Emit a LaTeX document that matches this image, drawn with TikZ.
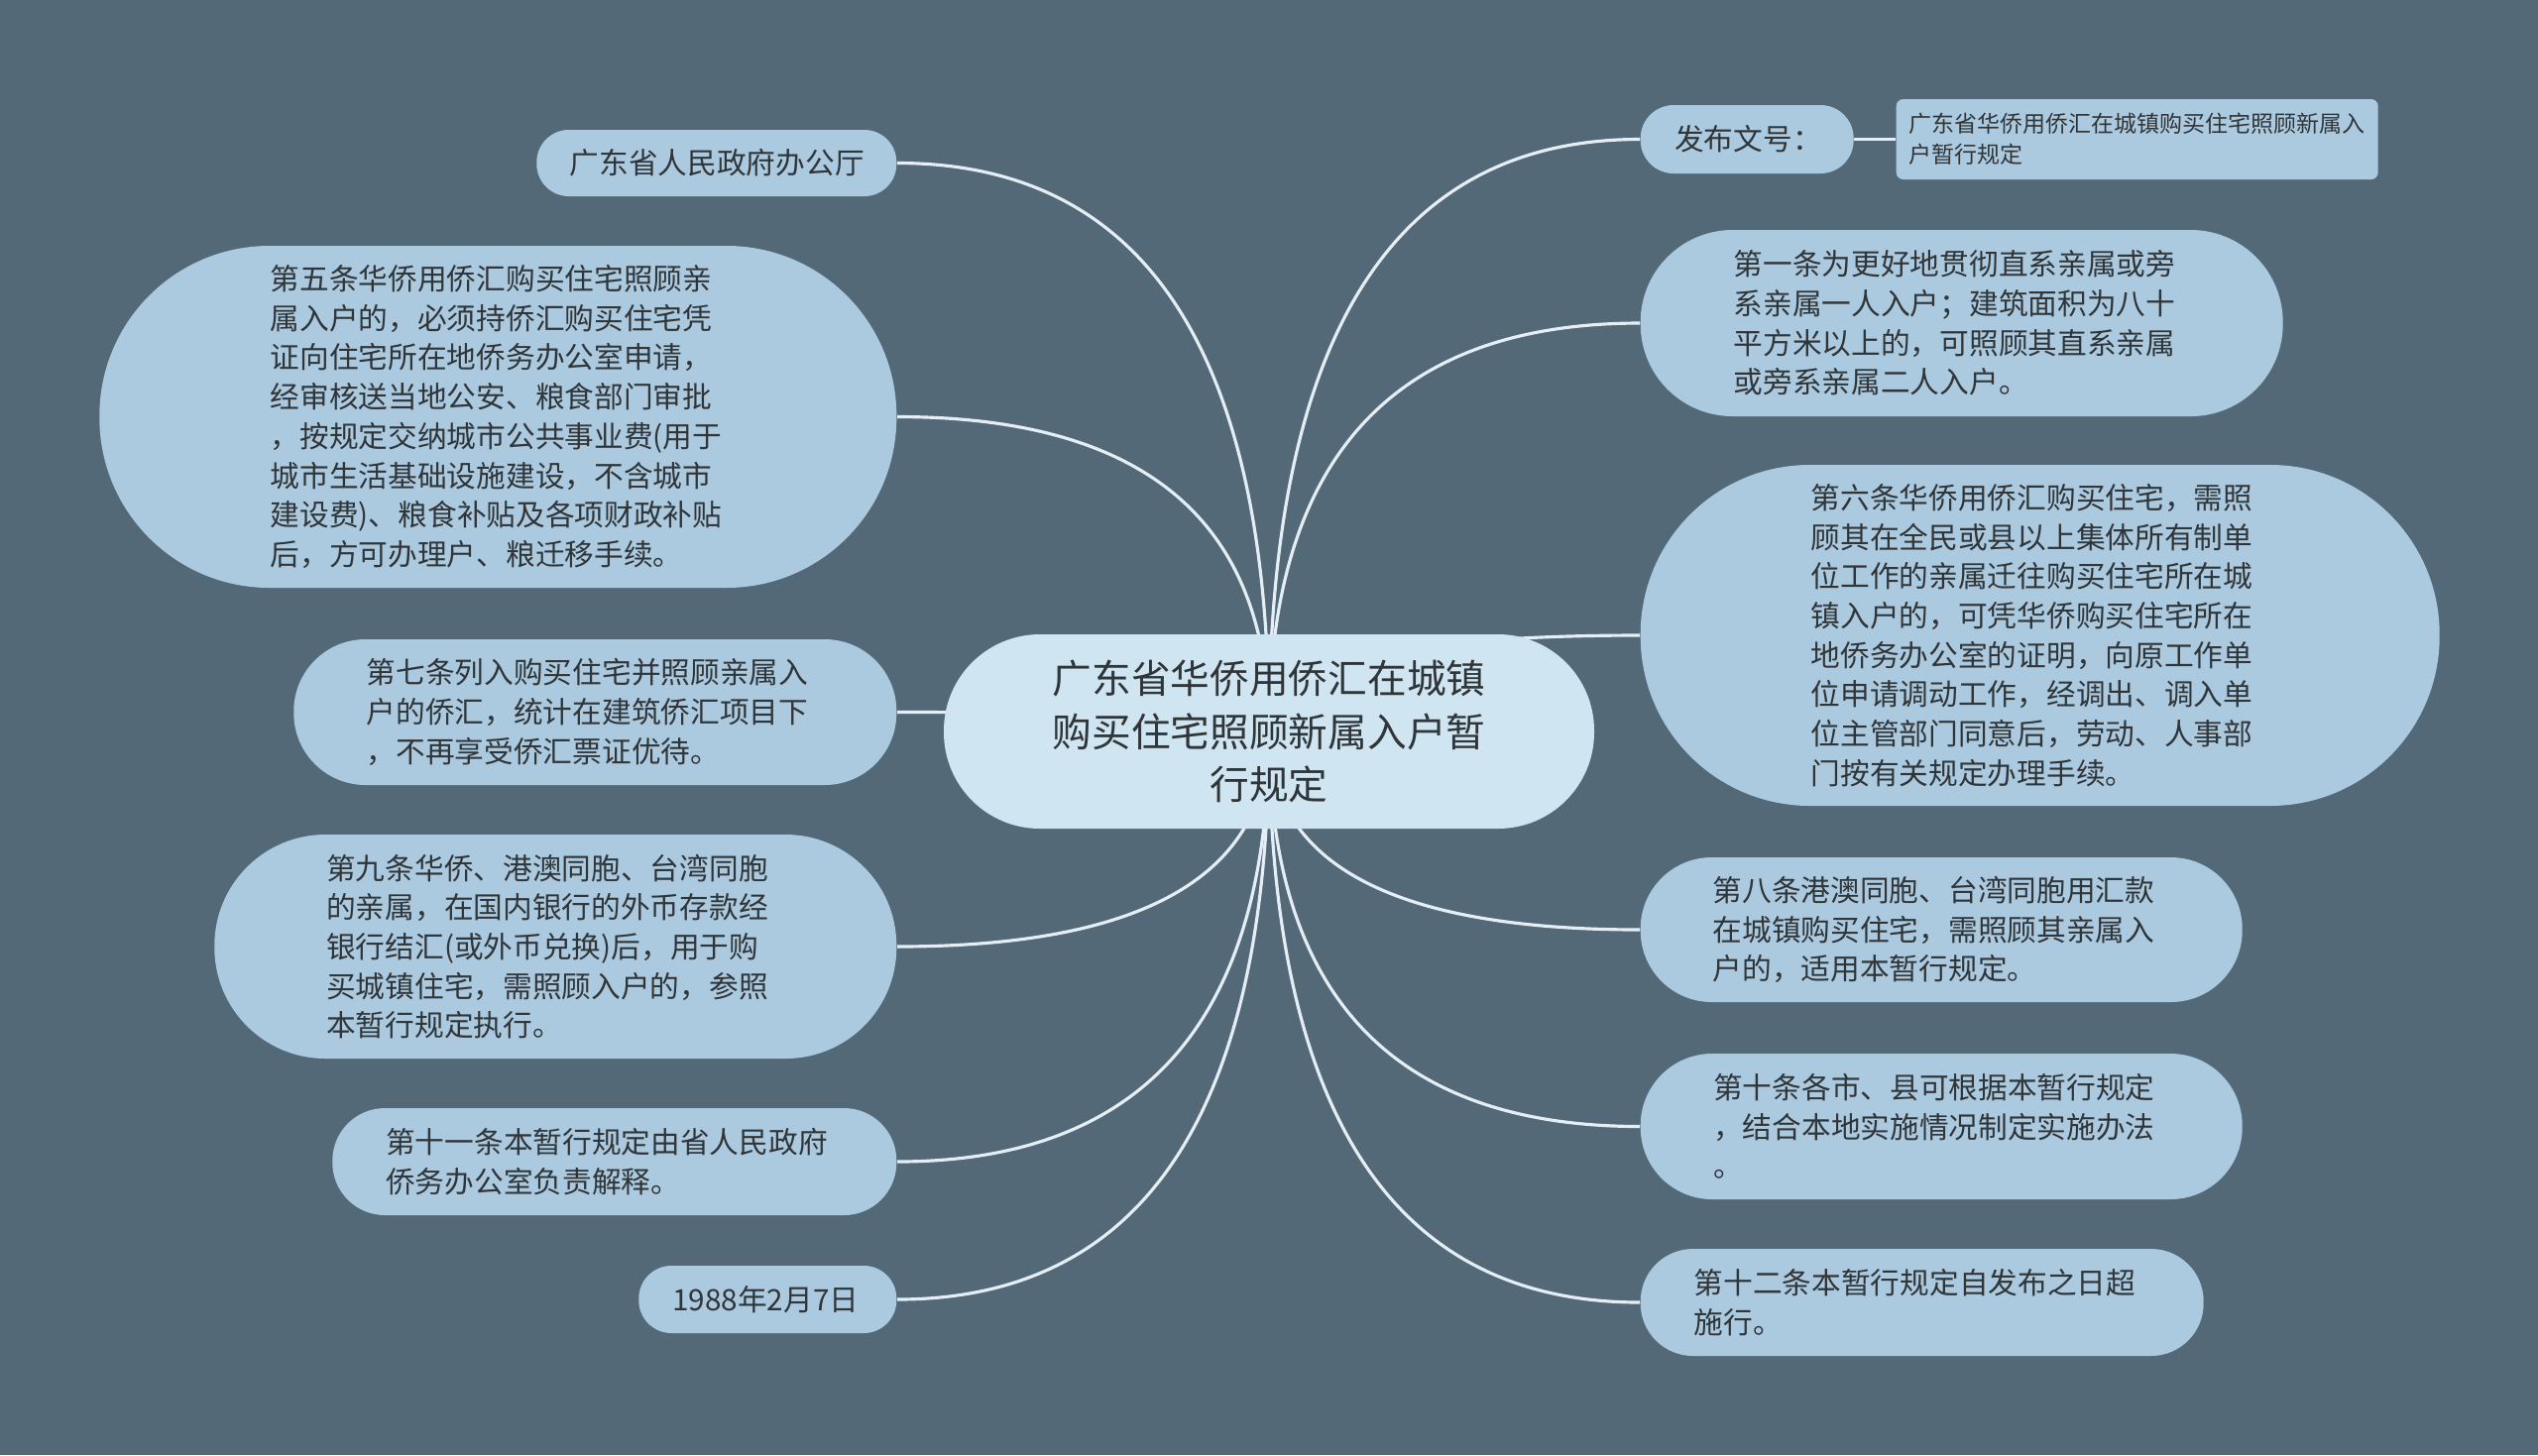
\documentclass[tikz,border=0pt]{standalone}
\usepackage{fontspec}
\setmainfont{Noto Sans CJK SC}
\usepackage{xcolor}
\usepackage{tikz}
\usetikzlibrary{backgrounds, calc}

\definecolor{bgslate}{HTML}{536977}
\definecolor{leafblue}{HTML}{ABC9DF}
\definecolor{rootblue}{HTML}{CFE5F1}
\definecolor{inkgray}{HTML}{303538}
\definecolor{linkwhite}{HTML}{E4EEF4}

\begin{document}
\begin{tikzpicture}[
  leaf/.style 2 args={rectangle, fill=leafblue, text=inkgray, inner sep=0pt,
                      minimum width=#1cm, minimum height=#2cm,
                      text width={#1cm-#2cm},
                      rounded corners={#2*0.5cm-0.3pt}, align=left,
                      font=\fontsize{8.45pt}{11.3pt}\selectfont},
  rootbox/.style={rectangle, fill=rootblue, text=inkgray, inner sep=0pt,
                  minimum width=6.56cm, minimum height=1.96cm,
                  rounded corners=0.97cm, align=center,
                  font=\fontsize{11.3pt}{15.3pt}\selectfont},
  tagbox/.style={rectangle, fill=leafblue, text=inkgray, inner sep=0pt,
                 minimum width=4.86cm, minimum height=0.81cm,
                 rounded corners=2pt, align=left,
                 font=\fontsize{6.55pt}{8.8pt}\selectfont},
  link/.style={linkwhite, line width=0.9pt},
]
\useasboundingbox (0,0) rectangle (25.6,-14.68);

%% Root
\node[rootbox] (title) at (12.80,-7.38)
      {广东省华侨用侨汇在城镇\\购买住宅照顾新属入户暂\\行规定};

%% Left branches (right edges aligned)
\node[leaf={3.63}{0.67}, anchor=east] (office) at (9.05,-1.645)
      {广东省人民政府办公厅};
\node[leaf={8.04}{3.45}, anchor=east] (art5) at (9.05,-4.205)
      {第五条华侨用侨汇购买住宅照顾亲\\属入户的，必须持侨汇购买住宅凭\\证向住宅所在地侨务办公室申请，\\经审核送当地公安、粮食部门审批\\，按规定交纳城市公共事业费(用于\\城市生活基础设施建设，不含城市\\建设费)、粮食补贴及各项财政补贴\\后，方可办理户、粮迁移手续。};
\node[leaf={6.08}{1.47}, anchor=east] (art7) at (9.05,-7.185)
      {第七条列入购买住宅并照顾亲属入\\户的侨汇，统计在建筑侨汇项目下\\，不再享受侨汇票证优待。};
\node[leaf={6.88}{2.26}, anchor=east] (art9) at (9.05,-9.55)
      {第九条华侨、港澳同胞、台湾同胞\\的亲属，在国内银行的外币存款经\\银行结汇(或外币兑换)后，用于购\\买城镇住宅，需照顾入户的，参照\\本暂行规定执行。};
\node[leaf={5.69}{1.08}, anchor=east] (art11) at (9.05,-11.72)
      {第十一条本暂行规定由省人民政府\\侨务办公室负责解释。};
\node[leaf={2.60}{0.68}, anchor=east] (date) at (9.05,-13.11)
      {1988年2月7日};

%% Right branches (left edges aligned)
\node[leaf={2.15}{0.69}, anchor=west] (docno) at (16.54,-1.405)
      {发布文号：};
\node[tagbox, anchor=west] (docname) at (19.12,-1.405)
      {广东省华侨用侨汇在城镇购买住宅照顾新属入\\户暂行规定};
\node[leaf={6.48}{1.88}, anchor=west] (art1) at (16.54,-3.26)
      {第一条为更好地贯彻直系亲属或旁\\系亲属一人入户；建筑面积为八十\\平方米以上的，可照顾其直系亲属\\或旁系亲属二人入户。};
\node[leaf={8.06}{3.44}, anchor=west] (art6) at (16.54,-6.41)
      {第六条华侨用侨汇购买住宅，需照\\顾其在全民或县以上集体所有制单\\位工作的亲属迁往购买住宅所在城\\镇入户的，可凭华侨购买住宅所在\\地侨务办公室的证明，向原工作单\\位申请调动工作，经调出、调入单\\位主管部门同意后，劳动、人事部\\门按有关规定办理手续。};
\node[leaf={6.07}{1.46}, anchor=west] (art8) at (16.54,-9.38)
      {第八条港澳同胞、台湾同胞用汇款\\在城镇购买住宅，需照顾其亲属入\\户的，适用本暂行规定。};
\node[leaf={6.07}{1.47}, anchor=west] (art10) at (16.54,-11.365)
      {第十条各市、县可根据本暂行规定\\，结合本地实施情况制定实施办法\\。};
\node[leaf={5.68}{1.08}, anchor=west] (art12) at (16.54,-13.14)
      {第十二条本暂行规定自发布之日超\\施行。};

%% Background and connectors (quadratic curves from the root centre)
\begin{pgfonlayer}{background}
  \fill[bgslate] (0,0) rectangle (25.6,-14.68);
  \foreach \kid/\side in {office/east,art5/east,art7/east,art9/east,art11/east,date/east,
                          docno/west,art1/west,art6/west,art8/west,art10/west,art12/west}
    \draw[link] (title.center)
      .. controls ($(title.center)!0.667!(title.center |- \kid.\side)$)
             and ($(\kid.\side)!0.667!(title.center |- \kid.\side)$) .. (\kid.\side);
  \draw[link] (docno.east) -- (docname.west);
\end{pgfonlayer}

\end{tikzpicture}
\end{document}
